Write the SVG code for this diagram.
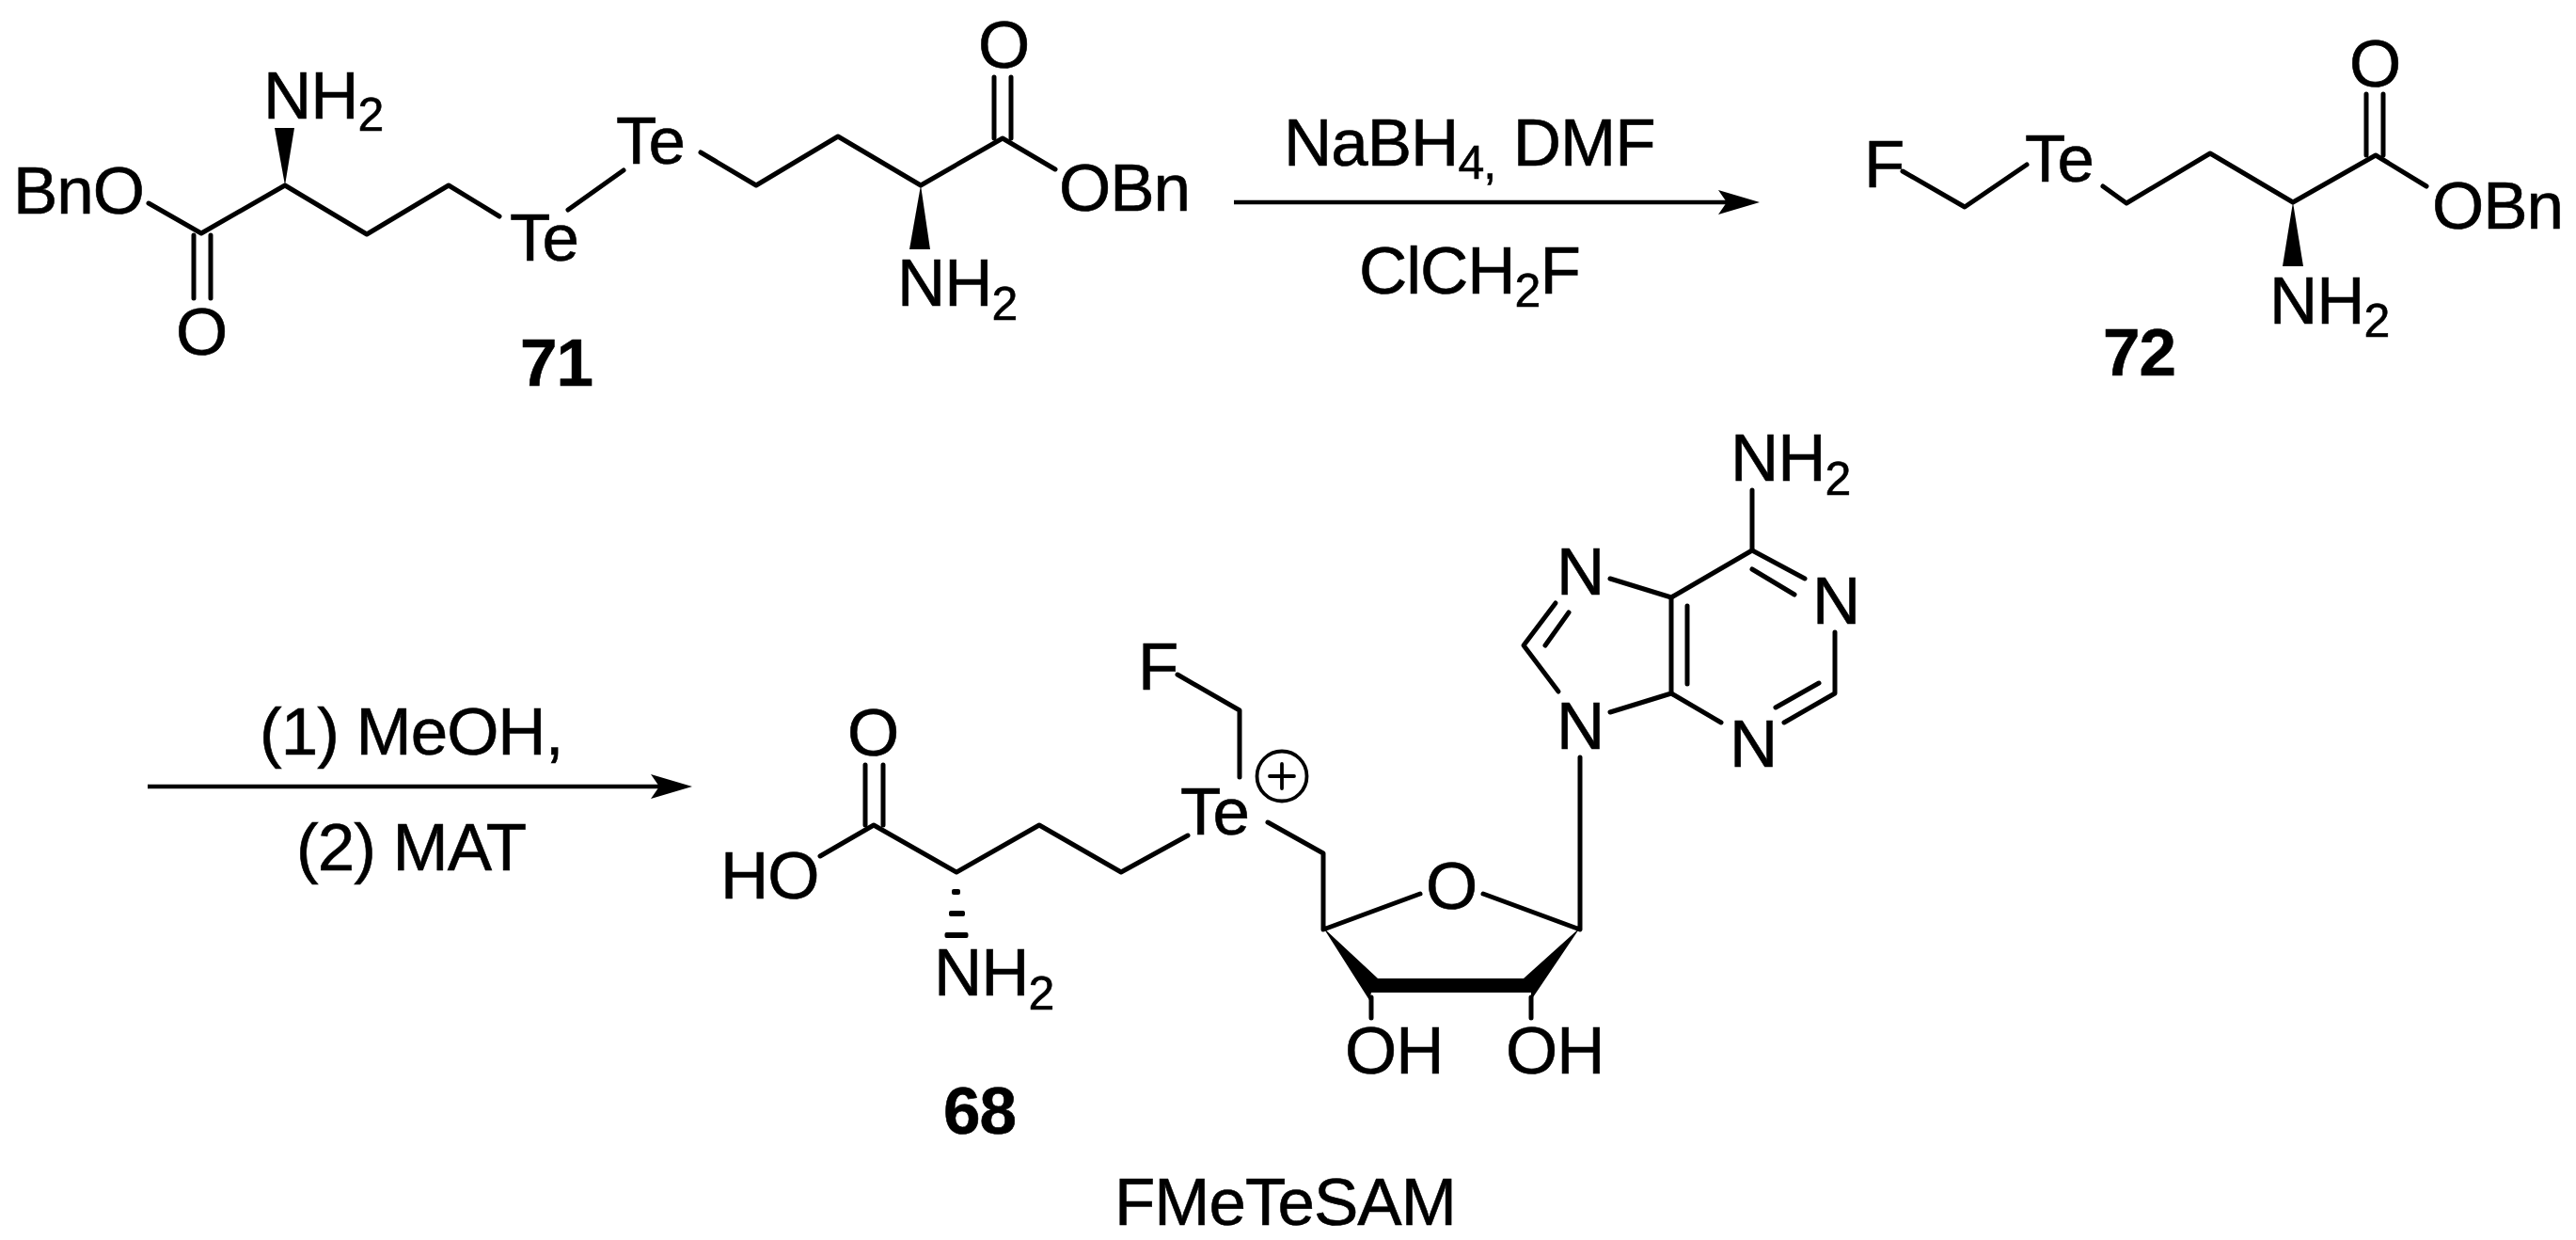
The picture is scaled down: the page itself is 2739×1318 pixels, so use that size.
<svg xmlns="http://www.w3.org/2000/svg" width="2739" height="1318" viewBox="0 0 2739 1318">
<defs>
<style>
text{font-family:"Liberation Sans",Arial,sans-serif;font-size:71px;letter-spacing:-1px;fill:#000;stroke:#000;stroke-width:.6px}
.s{font-size:50px}
.b{font-weight:bold}
.l{fill:none;stroke:#000;stroke-width:5;stroke-linecap:round;stroke-linejoin:round}
.t{stroke-width:3.8}
.w{fill:#000;stroke:none}
.a{fill:none;stroke:#000;stroke-width:4.6}
</style>
<marker id="ah" markerUnits="userSpaceOnUse" markerWidth="46" markerHeight="28" refX="34" refY="13" orient="auto"><path d="M0 0L44 13L0 26L9 13Z" fill="#000"/></marker>
</defs>
<rect width="2739" height="1318" fill="#fff"/>
<g id="connectors">
<path class="a" d="M1312 215H1861" marker-end="url(#ah)"/>
<path class="a" d="M157 836H726" marker-end="url(#ah)"/>
</g>
<g id="compound-71">
<path class="l" d="M158 216L214 248L303 197L390 249L477 197L531 230"/>
<path class="l" d="M206 250V317M224 250V317"/>
<path class="l" d="M604 223L663 181"/>
<path class="l" d="M745 162L804 197L891 145L979 197L1066 147L1122 180"/>
<path class="l" d="M1057 147V82M1075 147V82"/>
<polygon class="w" points="303,197 292,136 313,136"/>
<polygon class="w" points="979,197 967,265 989,265"/>
<text x="14" y="227">BnO</text>
<text x="1040" y="72">O</text>
<text x="187" y="377">O</text>
<text x="280" y="126">NH<tspan class="s" dy="13">2</tspan></text>
<text x="542" y="277">Te</text>
<text x="655" y="174">Te</text>
<text x="1126" y="224">OBn</text>
<text x="954" y="325">NH<tspan class="s" dy="15">2</tspan></text>
<text class="b" x="553" y="410">71</text>
</g>
<g id="reagents-1">
<text x="1365" y="176">NaBH<tspan class="s" dy="14">4,</tspan><tspan dy="-14"> DMF</tspan></text>
<text x="1445" y="312">ClCH<tspan class="s" dy="14">2</tspan><tspan dy="-14">F</tspan></text>
</g>
<g id="compound-72">
<path class="l" d="M2023 182L2089 220L2155 175"/>
<path class="l" d="M2236 198L2261 216L2350 163L2438 215L2526 165L2580 198"/>
<path class="l" d="M2516 165V100M2534 165V100"/>
<polygon class="w" points="2438,215 2427,283 2449,283"/>
<text x="1982" y="199">F</text>
<text x="2153" y="193">Te</text>
<text x="2498" y="92">O</text>
<text x="2586" y="243">OBn</text>
<text x="2413" y="344">NH<tspan class="s" dy="14">2</tspan></text>
<text class="b" x="2236" y="399">72</text>
</g>
<g id="reagents-2">
<text x="276" y="802">(1) MeOH,</text>
<text x="315" y="925">(2) MAT</text>
</g>
<g id="compound-68">
<path class="l" d="M872 910L929 877L1017 927L1105 877L1192 927L1263 888"/>
<path class="l" d="M920 877V813M939 877V813"/>
<path class="l" d="M1318 826V755L1252 717"/>
<path class="l" d="M1348 874L1407 907V988L1510 950"/>
<path class="l" d="M1577 950L1680 988V805"/>
<circle class="l t" cx="1363" cy="825" r="26.500"/>
<path class="l t" d="M1350 825H1376M1363 812V838"/>
<polygon class="w" points="1407,986 1465,1040 1620,1040 1680,986 1628,1063 1628,1055 1458,1055 1456,1063"/>
<path class="l" d="M1458 1060V1082M1628 1060V1082"/>
<rect class="w" x="1012" y="945" width="9" height="6" rx="2"/>
<rect class="w" x="1009" y="968" width="17" height="6" rx="2"/>
<rect class="w" x="1004.500" y="991" width="25" height="6" rx="2"/>
<path class="l" d="M1712 615L1777 635V737L1712 757"/>
<path class="l" d="M1794 644V727"/>
<path class="l" d="M1777 635L1863 585L1919 615"/>
<path class="l" d="M1863 605L1908 632"/>
<path class="l" d="M1863 585V521"/>
<path class="l" d="M1951 672V737L1897 768"/>
<path class="l" d="M1934 726L1888 752"/>
<path class="l" d="M1777 737L1830 768"/>
<path class="l" d="M1654 641L1620 686L1657 735"/>
<path class="l" d="M1668 651L1643 686"/>
<text x="766" y="955">HO</text>
<text x="901" y="803">O</text>
<text x="993" y="1058">NH<tspan class="s" dy="15">2</tspan></text>
<text x="1255" y="887">Te</text>
<text x="1210" y="733">F</text>
<text x="1516" y="966">O</text>
<text x="1430" y="1141">OH</text>
<text x="1601" y="1141">OH</text>
<text x="1655" y="632">N</text>
<text x="1655" y="796">N</text>
<text x="1927" y="663">N</text>
<text x="1839" y="815">N</text>
<text x="1840" y="511">NH<tspan class="s" dy="15">2</tspan></text>
<text class="b" x="1003" y="1205">68</text>
<text x="1185" y="1302">FMeTeSAM</text>
</g>
</svg>
